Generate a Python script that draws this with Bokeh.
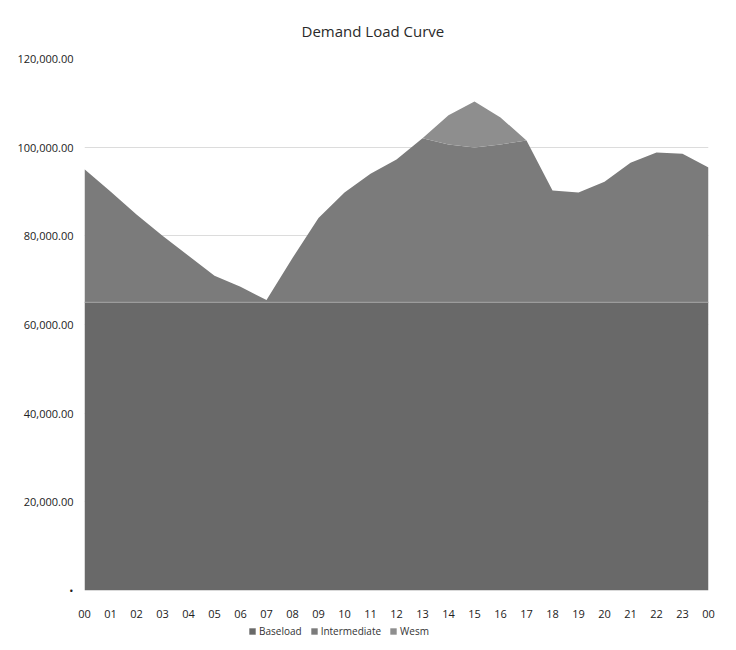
from bokeh.plotting import figure
from bokeh.layouts import column
from bokeh.models import ColumnDataSource, Range1d, FixedTicker, NumeralTickFormatter, Legend, LegendItem
from bokeh.embed import file_html
from bokeh.resources import INLINE

hours = ["00", "01", "02", "03", "04", "05", "06", "07", "08", "09", "10", "11", "12",
         "13", "14", "15", "16", "17", "18", "19", "20", "21", "22", "23", "00"]
baseload = [65000, 65000, 65000, 65000, 65000, 65000, 65000, 65000, 65000, 65000, 65000, 65000, 65000,
            65000, 65000, 65000, 65000, 65000, 65000, 65000, 65000, 65000, 65000, 65000, 65000]
intermediate = [30000, 25000, 19800, 15000, 10500, 6000, 3500, 500, 10000, 19000, 24800, 29000, 32200,
                37000, 35600, 34900, 35600, 36500, 25200, 24800, 27200, 31500, 33800, 33500, 30400]
wesm = [0, 0, 0, 0, 0, 0, 0, 0, 0, 0, 0, 0, 0,
        0, 6600, 10400, 6100, 0, 0, 0, 0, 0, 0, 0, 0]
series = ["Baseload", "Intermediate", "Wesm"]
y_ticks = [0, 20000, 40000, 60000, 80000, 100000, 120000]
colors = ["#696969", "#7b7b7b", "#8e8e8e"]

xs = list(range(len(hours)))
src = ColumnDataSource(dict(x=xs, Baseload=baseload, Intermediate=intermediate, Wesm=wesm,
                            base_top=baseload))

p = figure(width=736, height=620, output_backend="svg", toolbar_location=None,
           x_range=Range1d(0, len(hours) - 1), y_range=Range1d(0, 120000),
           min_border_left=84, min_border_right=28, min_border_top=58, min_border_bottom=30)

rs = p.varea_stack(series, x="x", source=src, color=colors)
p.line("x", "base_top", source=src, line_color="#9c9c9c", line_width=1.2)

p.title.text = "Demand Load Curve"
p.title.align = "left"
p.title.offset = 217
p.title.text_font = "Open Sans"
p.title.text_font_size = "15px"
p.title.text_font_style = "normal"
p.title.text_color = "#2a2a2a"
p.title.text_line_height = 0.8
p.title.standoff = 36

p.xgrid.grid_line_color = None
p.ygrid.grid_line_color = "#dcdcdc"
p.ygrid.ticker = FixedTicker(ticks=y_ticks)
p.outline_line_color = None

p.xaxis.ticker = FixedTicker(ticks=xs)
p.xaxis.major_label_overrides = {i: h for i, h in enumerate(hours)}
p.yaxis.ticker = FixedTicker(ticks=y_ticks)
p.yaxis.formatter = NumeralTickFormatter(format="0,0.00")
p.yaxis.major_label_overrides = {0: "•"}
for ax in (p.xaxis[0], p.yaxis[0]):
    ax.axis_line_color = None
    ax.major_tick_line_color = None
    ax.minor_tick_line_color = None
    ax.major_label_text_font = "Open Sans"
    ax.major_label_text_font_size = "11px"
    ax.major_label_text_color = "#222222"
p.xaxis.major_label_standoff = 13
p.yaxis.major_label_standoff = 5

# legend strip below the chart
q = figure(width=736, height=30, output_backend="svg", toolbar_location=None,
           x_range=Range1d(1000, 1001), y_range=Range1d(0, 1), min_border=0)
qrs = q.varea_stack(series, x="x", source=src, color=colors)
q.axis.visible = False
q.grid.grid_line_color = None
q.outline_line_color = None
legend = Legend(items=[LegendItem(label=n, renderers=[r]) for n, r in zip(series, qrs)],
                orientation="horizontal", location=(164, 12), background_fill_alpha=0,
                border_line_color=None, glyph_width=8, glyph_height=8, label_text_font="Open Sans",
                label_text_font_size="10px", label_text_color="#333333", spacing=8, padding=0,
                label_standoff=3, margin=0, label_height=12)
q.add_layout(legend, "center")

open("out.html", "w").write(file_html(column(p, q, spacing=0), INLINE))
